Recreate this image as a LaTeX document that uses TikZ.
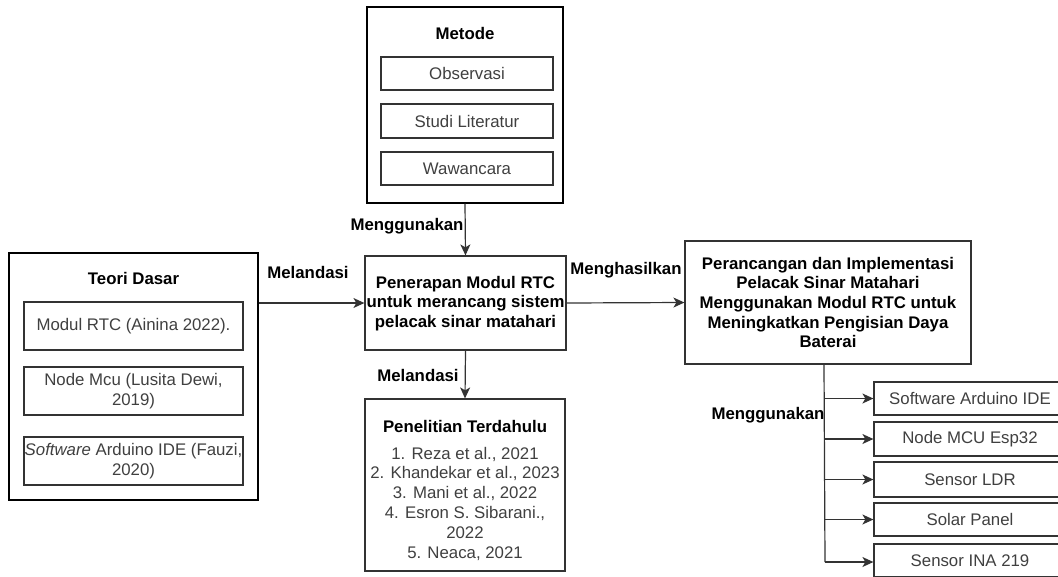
\documentclass[tikz,border=0pt]{standalone}
\usepackage{fontspec}
\setmainfont{Liberation Sans}
\usetikzlibrary{arrows.meta}
\definecolor{txtgray}{HTML}{404040}
\definecolor{boxgray}{HTML}{333333}
\tikzset{
  outbox/.style={draw=black, line width=1.2pt, rectangle, inner sep=0pt},
  inbox/.style={draw=boxgray, line width=1.2pt, rectangle, inner sep=0pt, text=txtgray, align=center,
    font=\fontsize{16.8}{20}\selectfont},
  boldtxt/.style={inner sep=0pt, align=center, font=\fontsize{16.8}{19.7}\selectfont\bfseries},
  plaintxt/.style={inner sep=0pt, align=center, text=txtgray, font=\fontsize{16.8}{19.8}\selectfont},
  arr/.style={draw=boxgray, line width=1.2pt, -{Stealth[length=11pt,width=10pt,inset=3pt]}},
  ln/.style={draw=boxgray, line width=1.2pt}
}
\begin{document}
\begin{tikzpicture}[x=1pt,y=-1pt]
\useasboundingbox (0,0) rectangle (1058,576);
\clip (0,0) rectangle (1058,576);
\fill[white] (0,0) rectangle (1058,576);

% Teori Dasar
\node[outbox, minimum width=249pt, minimum height=247pt] (teori) at (133.5,376.5) {};
\node[boldtxt] (teoriT) at (133.5,278) {Teori Dasar};
\node[inbox, minimum width=219pt, minimum height=48pt] (t1) at (133.5,326) {Modul RTC (Ainina 2022).};
\node[inbox, minimum width=219pt, minimum height=48pt] (t2) at (133.5,391) {Node Mcu (Lusita Dewi,\\2019)};
\node[inbox, minimum width=219pt, minimum height=48pt] (t3) at (133.5,461) {\textit{Software} Arduino IDE (Fauzi,\\2020)};

% Metode
\node[outbox, minimum width=196pt, minimum height=196pt] (metode) at (465,105) {};
\node[boldtxt] (metodeT) at (465,33) {Metode};
\node[inbox, minimum width=172pt, minimum height=33pt] (m1) at (467,73.5) {Observasi};
\node[inbox, minimum width=172pt, minimum height=34pt] (m2) at (467,121) {Studi Literatur};
\node[inbox, minimum width=172pt, minimum height=33pt] (m3) at (467,168.5) {Wawancara};

% Center
\node[outbox, draw=boxgray, minimum width=201pt, minimum height=94pt] (center) at (465.5,303) {};
\node[boldtxt] (centerT) at (465.5,303.5) {Penerapan Modul RTC\\untuk merancang sistem\\pelacak sinar matahari};

% Penelitian Terdahulu
\node[outbox, draw=boxgray, minimum width=200pt, minimum height=172pt] (pen) at (465,485) {};
\node[boldtxt] (penT) at (465,426) {Penelitian Terdahulu};
\node[plaintxt] (penL) at (465,503.5) {1. Reza et al., 2021\\2. Khandekar et al., 2023\\3. Mani et al., 2022\\4. Esron S. Sibarani.,\\2022\\5. Neaca, 2021};

% Right result box
\node[outbox, draw=boxgray, minimum width=286pt, minimum height=123pt] (hasil) at (828,302.5) {};
\node[boldtxt] (hasilT) at (828,302.5) {Perancangan dan Implementasi\\Pelacak Sinar Matahari\\Menggunakan Modul RTC untuk\\Meningkatkan Pengisian Daya\\Baterai};

% Small boxes
\node[inbox, minimum width=192pt, minimum height=33pt] (s1) at (970,398.5) {Software Arduino IDE};
\node[inbox, minimum width=192pt, minimum height=34pt] (s2) at (970,439) {Node MCU Esp32};
\node[inbox, minimum width=192pt, minimum height=35pt] (s3) at (970,479.5) {Sensor LDR};
\node[inbox, minimum width=192pt, minimum height=33pt] (s4) at (970,519.5) {Solar Panel};
\node[inbox, minimum width=192pt, minimum height=33pt] (s5) at (970,560.5) {Sensor INA 219};

% Connectors
\draw[arr] (center.west -| teori.east) -- (center.west);
\draw[arr] (metode.south) -- (center.north);
\draw[arr] (center.east) -- (hasil.west);
\draw[arr] (center.south) -- (pen.north);

\coordinate (spinetop) at (824,364);
\coordinate (spinebot) at (825,562);
\draw[ln] (spinetop) -- (spinebot);
\draw[arr] (spinetop |- s1.west) -- (s1.west);
\draw[arr] (spinetop |- s2.west) -- (s2.west);
\draw[arr] (spinetop |- s3.west) -- (s3.west);
\draw[arr] (spinetop |- s4.west) -- (s4.west);
\draw[arr] (spinebot) -- (s5.west |- spinebot);

% Labels
\node[boldtxt] (lbl1) at (308,272) {Melandasi};
\node[boldtxt] (lbl2) at (407,226) {Menggunakan};
\node[boldtxt] (lbl3) at (626,270) {Menghasilkan};
\node[boldtxt] (lbl4) at (418,375) {Melandasi};
\node[boldtxt] (lbl5) at (768,415) {Menggunakan};
\end{tikzpicture}
\end{document}
